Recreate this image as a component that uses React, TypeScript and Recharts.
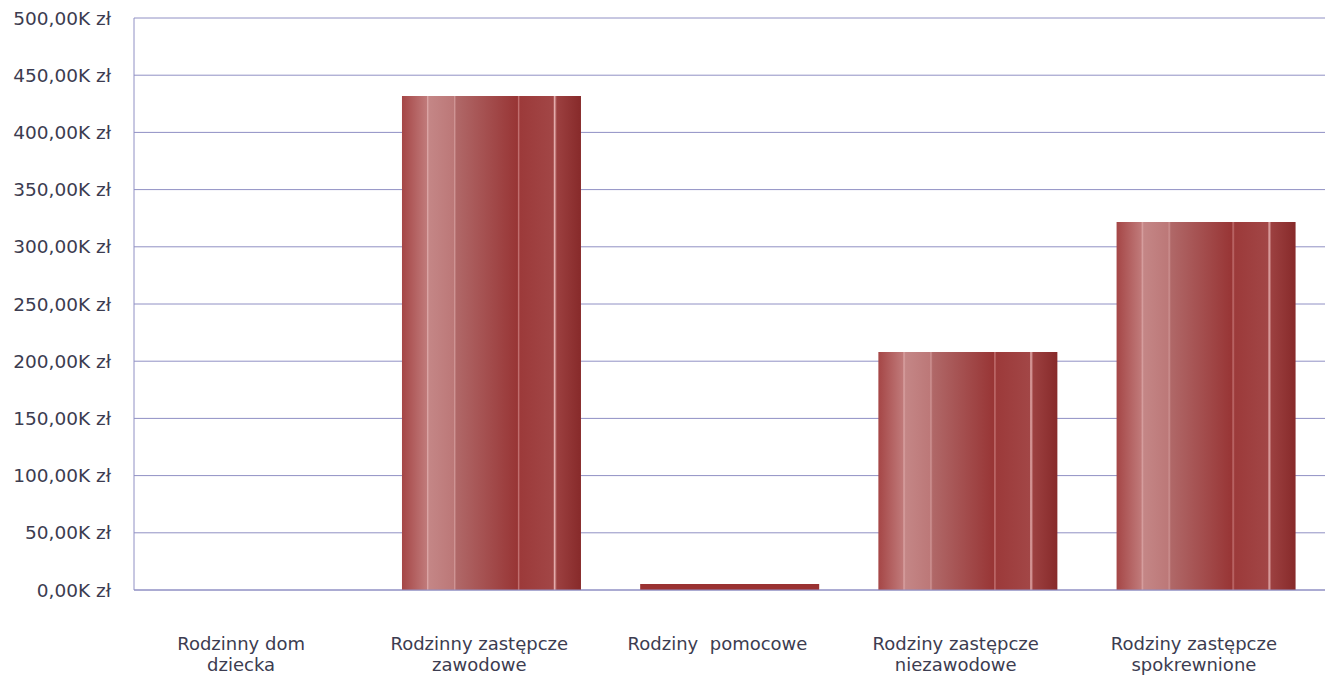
import React from 'react';
import { BarChart, Bar, XAxis, YAxis, CartesianGrid, Cell } from 'recharts';

const categories = [
    'Rodzinny dom dziecka',
    'Rodzinny zastępcze zawodowe',
    'Rodziny pomocowe',
    'Rodziny zastępcze niezawodowe',
    'Rodziny zastępcze spokrewnione',
];
const labelLines = [
    ['Rodzinny dom', 'dziecka'],
    ['Rodzinny zastępcze', 'zawodowe'],
    ['Rodziny  pomocowe'],
    ['Rodziny zastępcze', 'niezawodowe'],
    ['Rodziny zastępcze', 'spokrewnione'],
];
const amounts = [0, 431800, 5200, 208000, 321700];
const yTicks = [0, 50000, 100000, 150000, 200000, 250000, 300000, 350000, 400000, 450000, 500000];

const data = categories.map((name, i) => ({ name, value: amounts[i] }));

const FONT = '"DejaVu Sans", Verdana, sans-serif';
const TEXT = '#3c3c50';
const GRID = '#9090c4';

const formatK = (v: number) => `${(v / 1000).toFixed(2).replace('.', ',')}K zł`;

// two-line category labels under the axis (sit a little left of the bar centres)
const CategoryTick = (props: any) => {
    const { x, y, index } = props;
    const lines = labelLines[index] || [];
    return (
        <g>
            {lines.map((line, i) => (
                <text key={i} x={x - 12} y={y + 52 + i * 21} textAnchor="middle" fill={TEXT} fontSize={18} fontFamily={FONT} style={{ whiteSpace: 'pre' }}>
                    {line}
                </text>
            ))}
        </g>
    );
};

export default function App() {
    return (
        <div style={{ position: 'absolute', left: 0, top: 0, background: '#fff' }}>
            <BarChart width={1327} height={678} data={data} margin={{ top: 18, right: 2, left: 0, bottom: 0 }} barCategoryGap="12.5%">
                <defs>
                    <linearGradient id="barGrad" x1="0" y1="0" x2="1" y2="0">
                        <stop offset="0" stopColor="#a54646" />
                        <stop offset="0.138" stopColor="#c07a7a" />
                        <stop offset="0.142" stopColor="#dca6a6" />
                        <stop offset="0.152" stopColor="#c48686" />
                        <stop offset="0.288" stopColor="#bc7878" />
                        <stop offset="0.293" stopColor="#d09696" />
                        <stop offset="0.303" stopColor="#b06868" />
                        <stop offset="0.645" stopColor="#983535" />
                        <stop offset="0.650" stopColor="#c47474" />
                        <stop offset="0.660" stopColor="#9c3a3a" />
                        <stop offset="0.845" stopColor="#a24646" />
                        <stop offset="0.852" stopColor="#e4adad" />
                        <stop offset="0.865" stopColor="#9c4040" />
                        <stop offset="1" stopColor="#872a2a" />
                    </linearGradient>
                </defs>
                <CartesianGrid vertical={false} stroke={GRID} strokeWidth={1} />
                <XAxis
                    dataKey="name"
                    height={88}
                    interval={0}
                    tickLine={false}
                    axisLine={{ stroke: GRID }}
                    tick={<CategoryTick />}
                />
                <YAxis
                    width={134}
                    domain={[0, 500000]}
                    ticks={yTicks}
                    tickFormatter={formatK}
                    tickLine={false}
                    axisLine={{ stroke: GRID }}
                    tickMargin={17}
                    tick={{ fill: TEXT, fontSize: 18.5, fontFamily: FONT }}
                />
                <Bar dataKey="value" isAnimationActive={false}>
                    {data.map((d, i) => (
                        <Cell key={i} fill={d.value < 20000 ? '#9a3232' : 'url(#barGrad)'} />
                    ))}
                </Bar>
            </BarChart>
        </div>
    );
}
